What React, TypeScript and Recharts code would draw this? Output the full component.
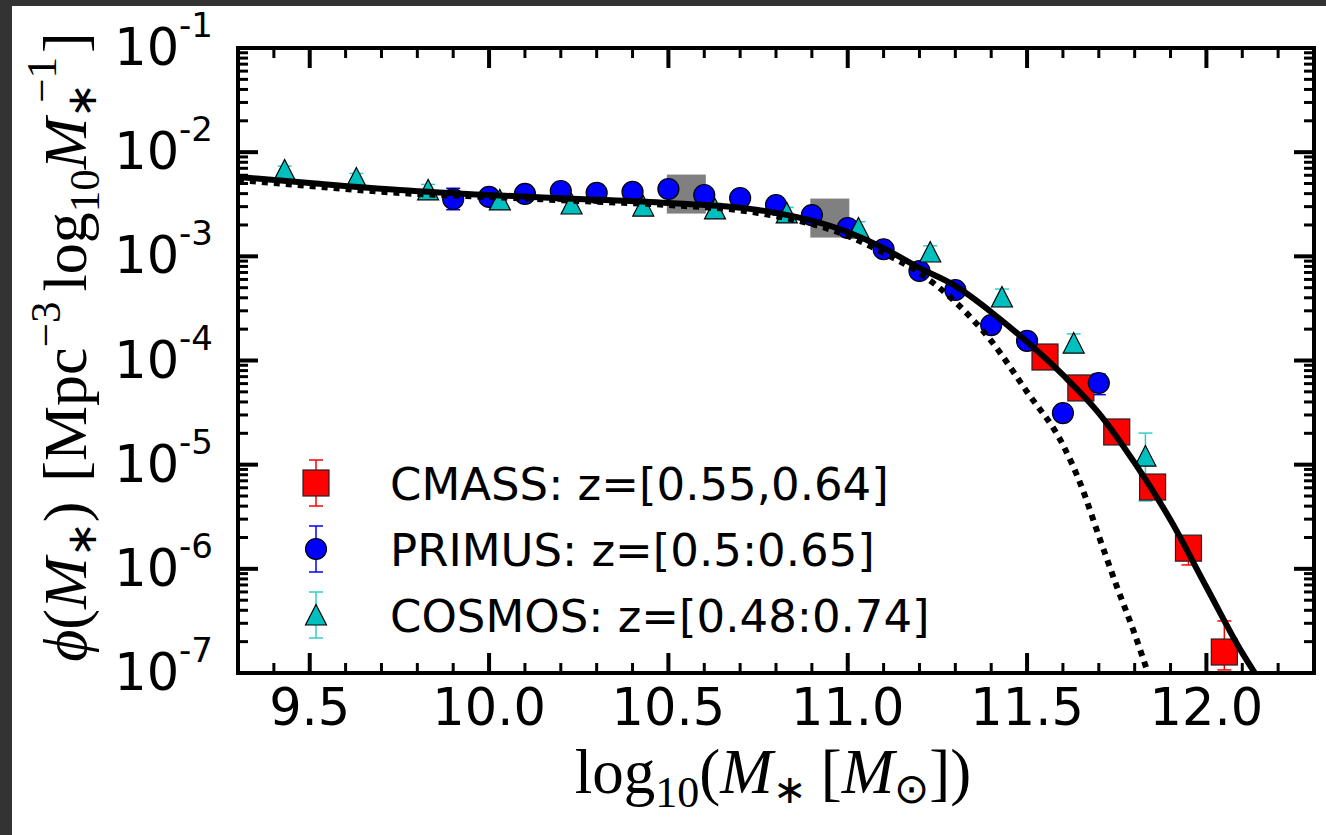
import React from "react";
import { ComposedChart, Scatter, Line, XAxis, YAxis, ErrorBar } from "recharts";

// CMASS z=[0.55,0.64]
const cmassMass = [11.55, 11.65, 11.75, 11.85, 11.95, 12.05];
const cmassPhi = [1.08e-4, 5.45e-5, 2.06e-5, 6.1e-6, 1.58e-6, 1.59e-7];
const cmassLow = [1.0e-4, 5.1e-5, 1.9e-5, 5.6e-6, 1.09e-6, 1.07e-7];
const cmassHigh = [1.17e-4, 5.8e-5, 2.2e-5, 6.6e-6, 1.8e-6, 3.16e-7];

// PRIMUS z=[0.5:0.65]
const primusMass = [9.9, 10.0, 10.1, 10.2, 10.3, 10.4, 10.5, 10.6, 10.7, 10.8, 10.9, 11.0, 11.1, 11.2, 11.3, 11.4, 11.5, 11.6, 11.7];
const primusPhi = [3.55e-3, 3.72e-3, 3.97e-3, 4.24e-3, 4.06e-3, 4.15e-3, 4.43e-3, 3.88e-3, 3.63e-3, 3.11e-3, 2.49e-3, 1.87e-3, 1.17e-3, 7.23e-4, 4.75e-4, 2.19e-4, 1.54e-4, 3.13e-5, 6.08e-5];
const primusLow = [2.8e-3, 3.4e-3, 3.7e-3, 3.95e-3, 3.8e-3, 3.9e-3, 4.15e-3, 3.6e-3, 3.4e-3, 2.9e-3, 2.3e-3, 1.72e-3, 1.07e-3, 6.5e-4, 4.1e-4, 1.85e-4, 1.38e-4, 2.8e-5, 4.7e-5];
const primusHigh = [4.5e-3, 4.0e-3, 4.25e-3, 4.55e-3, 4.35e-3, 4.45e-3, 4.75e-3, 4.15e-3, 3.9e-3, 3.35e-3, 2.7e-3, 2.02e-3, 1.27e-3, 7.9e-4, 5.2e-4, 2.4e-4, 1.68e-4, 3.45e-5, 7.4e-5];

// COSMOS z=[0.48:0.74]
const cosmosMass = [9.43, 9.63, 9.83, 10.03, 10.23, 10.43, 10.63, 10.83, 11.03, 11.23, 11.43, 11.63, 11.83];
const cosmosPhi = [6.75e-3, 5.65e-3, 4.34e-3, 3.48e-3, 3.18e-3, 3.04e-3, 2.85e-3, 2.61e-3, 1.87e-3, 1.1e-3, 4.07e-4, 1.47e-4, 1.21e-5];
const cosmosLow = [6.2e-3, 5.1e-3, 3.8e-3, 3.1e-3, 2.85e-3, 2.7e-3, 2.55e-3, 2.3e-3, 1.62e-3, 9.6e-4, 3.4e-4, 1.2e-4, 4.48e-6];
const cosmosHigh = [7.35e-3, 6.25e-3, 4.9e-3, 3.9e-3, 3.55e-3, 3.42e-3, 3.22e-3, 2.95e-3, 2.15e-3, 1.26e-3, 4.85e-4, 1.8e-4, 2.01e-5];

// grey boxes
const boxMass = [10.55, 10.95];
const boxPhi = [3.96e-3, 2.33e-3];

// model curves
const solidMass = [9.3, 9.5, 9.75, 10.0, 10.25, 10.5, 10.75, 11.0, 11.1, 11.2, 11.3, 11.4, 11.5, 11.6, 11.7, 11.8, 11.9, 12.0, 12.1, 12.135];
const solidPhi = [5.78e-3, 5.06e-3, 4.34e-3, 3.88e-3, 3.56e-3, 3.25e-3, 2.79e-3, 1.71e-3, 1.2e-3, 7.74e-4, 5.2e-4, 2.92e-4, 1.51e-4, 7.26e-5, 3.13e-5, 1.04e-5, 2.94e-6, 6.7e-7, 1.56e-7, 1.0e-7];
const dottedMass = [9.3, 9.5, 9.75, 10.0, 10.25, 10.5, 10.75, 11.0, 11.1, 11.2, 11.3, 11.4, 11.5, 11.6, 11.65, 11.7, 11.75, 11.8, 11.837];
const dottedPhi = [5.41e-3, 4.74e-3, 4.06e-3, 3.72e-3, 3.4e-3, 3.11e-3, 2.61e-3, 1.57e-3, 1.08e-3, 6.93e-4, 3.65e-4, 1.54e-4, 4.99e-5, 1.55e-5, 6.4e-6, 2.07e-6, 6.8e-7, 2.37e-7, 1.0e-7];

// ticks
const xTicks = [9.4, 9.5, 9.6, 9.7, 9.8, 9.9, 10.0, 10.1, 10.2, 10.3, 10.4, 10.5, 10.6, 10.7, 10.8, 10.9, 11.0, 11.1, 11.2, 11.3, 11.4, 11.5, 11.6, 11.7, 11.8, 11.9, 12.0, 12.1, 12.2];
const xMajor = [9.5, 10.0, 10.5, 11.0, 11.5, 12.0];
const xTickLabels = ["9.5", "10.0", "10.5", "11.0", "11.5", "12.0"];
const yDecades = [-7, -6, -5, -4, -3, -2, -1];
const yTickExp = ["-7", "-6", "-5", "-4", "-3", "-2", "-1"];
const yMinorMult = [2, 3, 4, 5, 6, 7, 8, 9];

const yMajor = yDecades.map((d) => Math.pow(10, d));
const yTicks = [
  ...yMajor,
  ...yDecades.slice(0, -1).flatMap((d) => yMinorMult.map((m) => m * Math.pow(10, d))),
].sort((a, b) => a - b);

const rows = (mass: number[], phi: number[], low?: number[], high?: number[]) =>
  mass.map((x, i) => ({
    x,
    y: phi[i],
    err: low && high ? [phi[i] - low[i], high[i] - phi[i]] : 0,
  }));

const cmassRows = rows(cmassMass, cmassPhi, cmassLow, cmassHigh);
const primusRows = rows(primusMass, primusPhi, primusLow, primusHigh);
const cosmosRows = rows(cosmosMass, cosmosPhi, cosmosLow, cosmosHigh);
const boxRows = rows(boxMass, boxPhi);
const solidRows = rows(solidMass, solidPhi);
const dottedRows = rows(dottedMass, dottedPhi);

const TICK_FONT = "DejaVu Sans, sans-serif";
const MATH_FONT = "Liberation Serif, serif";

const xIndex = (v: number) => xMajor.findIndex((m) => Math.abs(m - v) < 1e-6);
const yIndex = (v: number) => yMajor.findIndex((m) => Math.abs(m - v) / m < 1e-6);

const BottomTick = (props: any) => {
  const { x, y, payload } = props;
  const i = xIndex(payload.value);
  return (
    <g>
      <line x1={x} x2={x} y1={y} y2={y - (i >= 0 ? 20 : 10)} stroke="#000" strokeWidth={i >= 0 ? 4 : 3} />
      {i >= 0 && (
        <text x={x} y={y + 52} textAnchor="middle" fontSize={51} fontFamily={TICK_FONT} fill="#000">
          {xTickLabels[i]}
        </text>
      )}
    </g>
  );
};

const TopTick = (props: any) => {
  const { x, y, payload } = props;
  const i = xIndex(payload.value);
  return <line x1={x} x2={x} y1={y} y2={y + (i >= 0 ? 20 : 10)} stroke="#000" strokeWidth={i >= 0 ? 4 : 3} />;
};

const LeftTick = (props: any) => {
  const { x, y, payload } = props;
  const i = yIndex(payload.value);
  return (
    <g>
      <line x1={x} x2={x + (i >= 0 ? 20 : 10)} y1={y} y2={y} stroke="#000" strokeWidth={i >= 0 ? 4 : 3} />
      {i >= 0 && (
        <text x={x - 25} y={y + 17} textAnchor="end" fontSize={51} fontFamily={TICK_FONT} fill="#000">
          10
          <tspan fontSize={34} dy={-28}>
            {yTickExp[i]}
          </tspan>
        </text>
      )}
    </g>
  );
};

const RightTick = (props: any) => {
  const { x, y, payload } = props;
  const i = yIndex(payload.value);
  return <line x1={x} x2={x - (i >= 0 ? 20 : 10)} y1={y} y2={y} stroke="#000" strokeWidth={i >= 0 ? 4 : 3} />;
};

const squareShape = (size: number, fill: string, stroke: string) => (props: any) => (
  <rect
    x={props.cx - size / 2}
    y={props.cy - size / 2}
    width={size}
    height={size}
    fill={fill}
    stroke={stroke}
    strokeWidth={stroke === "none" ? 0 : 1.2}
  />
);

const circleShape = (props: any) => (
  <circle cx={props.cx} cy={props.cy} r={10.5} fill="#0000ff" stroke="#000" strokeWidth={1.2} />
);

const triangleShape = (props: any) => (
  <polygon
    points={`${props.cx},${props.cy - 10.5} ${props.cx - 10.5},${props.cy + 10} ${props.cx + 10.5},${props.cy + 10}`}
    fill="#00bfbf"
    stroke="#000"
    strokeWidth={1.2}
  />
);

const axisLine = { stroke: "#000", strokeWidth: 4, strokeLinecap: "square" as const };

function Legend() {
  const mx = 316;
  const rowsY = [483, 549, 615];
  const labels = ["CMASS: z=[0.55,0.64]", "PRIMUS: z=[0.5:0.65]", "COSMOS: z=[0.48:0.74]"];
  const colors = ["#ff0000", "#0000ff", "#33cccc"];
  return (
    <g>
      {rowsY.map((cy, i) => (
        <g key={i}>
          <line x1={mx} x2={mx} y1={cy - 23} y2={cy + 23} stroke={colors[i]} strokeWidth={1.5} />
          <line x1={mx - 7} x2={mx + 7} y1={cy - 23} y2={cy - 23} stroke={colors[i]} strokeWidth={1.5} />
          <line x1={mx - 7} x2={mx + 7} y1={cy + 23} y2={cy + 23} stroke={colors[i]} strokeWidth={1.5} />
          {i === 0 && squareShape(26, "#ff0000", "#222")({ cx: mx, cy })}
          {i === 1 && circleShape({ cx: mx, cy })}
          {i === 2 && triangleShape({ cx: mx, cy })}
          <text x={390} y={cy + 17} fontSize={45} fontFamily={TICK_FONT} fill="#000">
            {labels[i]}
          </text>
        </g>
      ))}
    </g>
  );
}

export default function App() {
  return (
    <div style={{ position: "absolute", left: 0, top: 0, width: 1326, height: 835, background: "#fff" }}>
      <ComposedChart width={1326} height={835} margin={{ top: 47, right: 11, bottom: 161, left: 237 }}>
        <XAxis
          xAxisId={0}
          dataKey="x"
          type="number"
          domain={[9.3, 12.3]}
          allowDataOverflow
          ticks={xTicks}
          interval={0}
          height={1}
          tickSize={0}
          tickMargin={0}
          tickLine={false}
          axisLine={axisLine}
          tick={<BottomTick />}
        />
        <XAxis
          xAxisId="top"
          orientation="top"
          dataKey="x"
          type="number"
          domain={[9.3, 12.3]}
          allowDataOverflow
          ticks={xTicks}
          interval={0}
          height={1}
          tickSize={0}
          tickMargin={0}
          tickLine={false}
          axisLine={axisLine}
          tick={<TopTick />}
        />
        <YAxis
          yAxisId={0}
          dataKey="y"
          type="number"
          scale="log"
          domain={[1e-7, 1e-1]}
          allowDataOverflow
          ticks={yTicks}
          interval={0}
          width={1}
          tickSize={0}
          tickMargin={0}
          tickLine={false}
          axisLine={axisLine}
          tick={<LeftTick />}
        />
        <YAxis
          yAxisId="right"
          orientation="right"
          dataKey="y"
          type="number"
          scale="log"
          domain={[1e-7, 1e-1]}
          allowDataOverflow
          ticks={yTicks}
          interval={0}
          width={1}
          tickSize={0}
          tickMargin={0}
          tickLine={false}
          axisLine={axisLine}
          tick={<RightTick />}
        />

        <Scatter data={boxRows} shape={squareShape(39, "#808080", "none")} isAnimationActive={false} />
        <Scatter data={cmassRows} shape={squareShape(26, "#ff0000", "#222")} isAnimationActive={false}>
          <ErrorBar dataKey="err" direction="y" width={7} stroke="#ff0000" strokeWidth={1.5} isAnimationActive={false} />
        </Scatter>
        <Scatter data={primusRows} shape={circleShape} isAnimationActive={false}>
          <ErrorBar dataKey="err" direction="y" width={7} stroke="#0000ff" strokeWidth={1.5} isAnimationActive={false} />
        </Scatter>
        <Scatter data={cosmosRows} shape={triangleShape} isAnimationActive={false}>
          <ErrorBar dataKey="err" direction="y" width={7} stroke="#33cccc" strokeWidth={1.5} isAnimationActive={false} />
        </Scatter>

        <Line
          data={dottedRows}
          dataKey="y"
          type="monotone"
          stroke="#000"
          strokeWidth={6}
          strokeDasharray="6 6"
          dot={false}
          activeDot={false}
          isAnimationActive={false}
          zIndex={700}
        />
        <Line
          data={solidRows}
          dataKey="y"
          type="monotone"
          stroke="#000"
          strokeWidth={6}
          dot={false}
          activeDot={false}
          isAnimationActive={false}
          zIndex={710}
        />
      </ComposedChart>

      <svg
        width={1326}
        height={835}
        style={{ position: "absolute", left: 0, top: 0, pointerEvents: "none" }}
      >
        <rect x={0} y={0} width={1326} height={6} fill="#333" />
        <rect x={0} y={0} width={12} height={835} fill="#333" />
        <Legend />
        <text x={773} y={793} textAnchor="middle" fontFamily={MATH_FONT} fontSize={63} fill="#000">
          log
          <tspan fontSize={44} dy={14}>10</tspan>
          <tspan dy={-14}>(</tspan>
          <tspan fontStyle="italic">M</tspan>
          <tspan fontSize={40} dy={10}>∗</tspan>
          <tspan dy={-10} dx={14}>[</tspan>
          <tspan fontStyle="italic">M</tspan>
          <tspan fontSize={42} dy={10}>⊙</tspan>
          <tspan dy={-10}>])</tspan>
        </text>
        <text transform="translate(86,347) rotate(-90)" textAnchor="middle" fontFamily={MATH_FONT} fontSize={62} fill="#000">
          <tspan fontStyle="italic">ϕ</tspan>
          <tspan>(</tspan>
          <tspan fontStyle="italic">M</tspan>
          <tspan fontSize={42} dy={10}>∗</tspan>
          <tspan dy={-10}>)</tspan>
          <tspan dx={20}>[Mpc</tspan>
          <tspan fontSize={43} dy={-26}>−3</tspan>
          <tspan dy={26} dx={10}>log</tspan>
          <tspan fontSize={43} dy={13}>10</tspan>
          <tspan fontStyle="italic" dy={-13}>M</tspan>
          <tspan fontSize={42} dy={10}>∗</tspan>
          <tspan fontSize={43} dy={-40} dx={-20}>−1</tspan>
          <tspan dy={30} dx={4}>]</tspan>
        </text>
      </svg>
    </div>
  );
}
